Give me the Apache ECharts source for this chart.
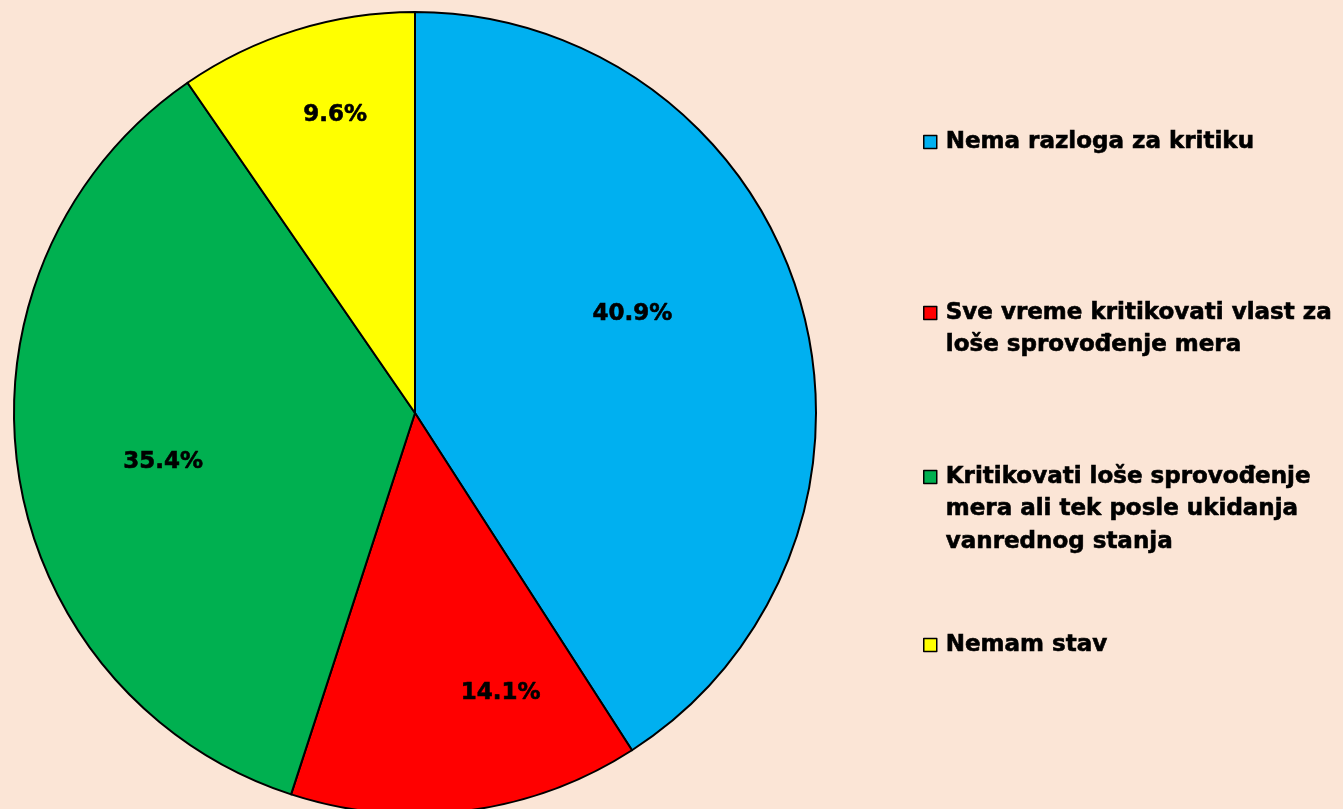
<!DOCTYPE html>
<html>
<head>
    <meta charset="utf-8">
    <title>Pie</title>
    <style>
        html, body { margin: 0; padding: 0; background: #FBE5D6; }
        #main { width: 1343px; height: 809px; }
    </style>
</head>
<body>
<div id="main"></div>
<script src="https://cdn.jsdelivr.net/npm/echarts@6/dist/echarts.min.js"></script>
<script>
    // data
    var categories = [
        'Nema razloga za kritiku',
        'Sve vreme kritikovati vlast za\nloše sprovođenje mera',
        'Kritikovati loše sprovođenje\nmera ali tek posle ukidanja\nvanrednog stanja',
        'Nemam stav'
    ];
    var values = [40.9, 14.1, 35.4, 9.6];
    var colors = ['#00B0F0', '#FF0000', '#00B050', '#FFFF00'];

    var cx = 415, cy = 413, R = 401;
    var fontFamily = 'DejaVu Sans';
    var lineH = 32.5;
    // where Excel put each percentage: [angle from top, clockwise, in degrees; fraction of radius]
    var labelAt = [[65.6, 0.595], [163, 0.73], [259, 0.64], [345, 0.77]];
    // vertical centre of the first line of each legend entry
    var legendY = [142, 313, 477, 645];

    var legends = categories.map(function (name, i) {
        var n = name.split('\n').length;
        return {
            data: [name],
            orient: 'vertical',
            left: 923,
            // the text block is padded with empty lines so the square sits on the first line
            top: legendY[i] - (2 * n - 1) * lineH / 2,
            padding: 0,
            icon: 'rect',
            itemWidth: 13,
            itemHeight: 13,
            selectedMode: false,
            formatter: function (nm) {
                return new Array(n).join('\n') + nm;
            },
            itemStyle: { borderColor: '#000', borderWidth: 1.5 },
            textStyle: {
                fontFamily: fontFamily,
                fontWeight: 'bold',
                fontSize: 23,
                color: '#000',
                textBorderColor: '#000',
                textBorderWidth: 0.6,
                lineHeight: lineH,
                padding: [0, 0, 0, 4]
            }
        };
    });

    var chart = echarts.init(document.getElementById('main'));
    chart.setOption({
        backgroundColor: '#FBE5D6',
        animation: false,
        color: colors,
        legend: legends,
        series: [{
            type: 'pie',
            center: [cx, cy],
            radius: [0, R],
            startAngle: 90,
            clockwise: true,
            data: categories.map(function (c, i) { return { name: c, value: values[i] }; }),
            itemStyle: { borderColor: '#000', borderWidth: 2 },
            emphasis: { disabled: true },
            label: {
                show: true,
                position: 'inside',
                formatter: function (p) { return p.value.toFixed(1) + '%'; },
                fontFamily: fontFamily,
                fontWeight: 'bold',
                fontSize: 23,
                color: '#000',
                textBorderColor: '#000',
                textBorderWidth: 0.6
            },
            labelLine: { show: false },
            labelLayout: function (p) {
                var a = labelAt[p.dataIndex][0] * Math.PI / 180;
                var r = labelAt[p.dataIndex][1] * R;
                return { x: cx + r * Math.sin(a), y: cy - r * Math.cos(a) };
            }
        }]
    });
</script>
</body>
</html>
